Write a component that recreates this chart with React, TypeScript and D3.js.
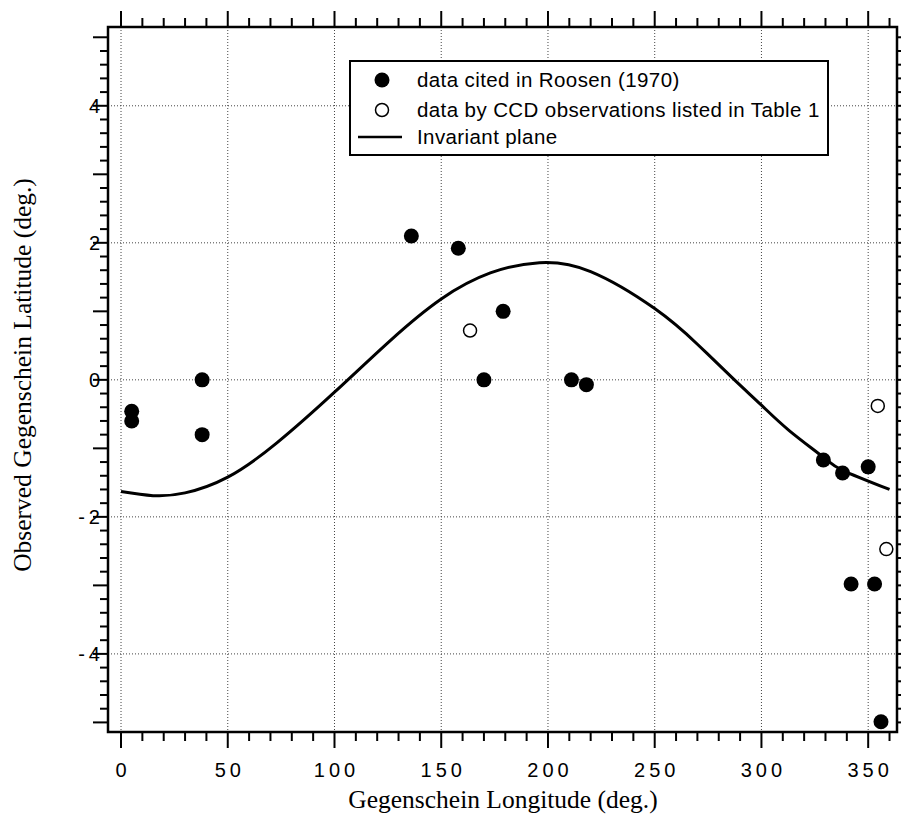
import * as d3 from "d3";
import { useEffect, useRef } from "react";

// filled circles: data cited in Roosen (1970)
const roosenLon = [5, 5, 38, 38, 136, 158, 170, 179, 211, 218, 329, 338, 350, 342, 353, 356];
const roosenLat = [-0.46, -0.6, 0, -0.8, 2.1, 1.92, 0, 1.0, 0, -0.07, -1.17, -1.36, -1.27, -2.98, -2.98, -4.99];

// open circles: CCD observations (Table 1)
const ccdLon = [163.5, 354.5, 358.5];
const ccdLat = [0.72, -0.38, -2.47];

// invariant plane
const planeLon = [0, 15, 30, 50, 73, 100, 126, 150, 173, 196, 220, 250, 270, 287, 300, 313, 329, 338, 360];
const planeLat = [-1.63, -1.69, -1.65, -1.42, -0.92, -0.18, 0.57, 1.18, 1.56, 1.71, 1.58, 1.04, 0.52, 0.01, -0.37, -0.74, -1.13, -1.32, -1.6];

const xTicks = [0, 50, 100, 150, 200, 250, 300, 350];
const yTicks = [-4, -2, 0, 2, 4];

const legendLabels = [
    "data cited in Roosen (1970)",
    "data by CCD observations listed in Table 1",
    "Invariant plane",
];

const W = 901;
const H = 814;
const left = 108, right = 897, top = 27, bottom = 732;

const App = () => {
    const svgRef = useRef<SVGSVGElement>(null);

    useEffect(() => {
        const svg = d3.select(svgRef.current);
        svg.selectAll("*").remove();

        const x = d3.scaleLinear().domain([-6.1, 363.5]).range([left, right]);
        const y = d3.scaleLinear().domain([-5.14, 5.15]).range([bottom, top]);

        const sans = "'Liberation Sans', Arial, sans-serif";
        const serif = "'Liberation Serif', 'Times New Roman', serif";

        // grid
        const grid = svg.append("g").attr("stroke", "#444").attr("stroke-width", 1).attr("stroke-dasharray", "1,2");
        xTicks.forEach((t) => {
            grid.append("line").attr("x1", x(t)).attr("x2", x(t)).attr("y1", top).attr("y2", bottom);
        });
        yTicks.forEach((t) => {
            grid.append("line").attr("x1", left).attr("x2", right).attr("y1", y(t)).attr("y2", y(t));
        });

        // ticks on all four sides, outward
        const minorX = d3.range(0, 361, 10);
        const minorY = d3.range(-50, 51, 2).map((v) => v / 10);
        const tk = svg.append("g").attr("stroke", "#000").attr("stroke-width", 2);
        minorX.forEach((t) => {
            const len = t % 50 === 0 ? 16 : 9;
            tk.append("line").attr("x1", x(t)).attr("x2", x(t)).attr("y1", bottom).attr("y2", bottom + len);
            tk.append("line").attr("x1", x(t)).attr("x2", x(t)).attr("y1", top).attr("y2", top - len);
        });
        minorY.forEach((t) => {
            const len = Math.abs(t - Math.round(t)) < 1e-6 ? 15 : 8;
            tk.append("line").attr("x1", left).attr("x2", left - len).attr("y1", y(t)).attr("y2", y(t));
            tk.append("line").attr("x1", right).attr("x2", right + len).attr("y1", y(t)).attr("y2", y(t));
        });

        // frame
        svg.append("rect")
            .attr("x", left).attr("y", top)
            .attr("width", right - left).attr("height", bottom - top)
            .attr("fill", "none").attr("stroke", "#000").attr("stroke-width", 2.5);

        // tick labels
        svg.append("g").selectAll("text").data(xTicks).enter().append("text")
            .attr("x", (d) => x(d) + 2).attr("y", 777)
            .attr("text-anchor", "middle")
            .attr("font-family", sans).attr("font-size", 20)
            .style("letter-spacing", "4px")
            .text((d) => d);
        svg.append("g").selectAll("text").data(yTicks).enter().append("text")
            .attr("x", 104).attr("y", (d) => y(d) + 7)
            .attr("text-anchor", "end")
            .attr("font-family", sans).attr("font-size", 20)
            .style("letter-spacing", "4px")
            .text((d) => d);

        // axis titles
        svg.append("text")
            .attr("x", 503).attr("y", 808)
            .attr("text-anchor", "middle")
            .attr("font-family", serif).attr("font-size", 25.5)
            .text("Gegenschein Longitude (deg.)");
        svg.append("text")
            .attr("transform", "translate(31,375) rotate(-90)")
            .attr("text-anchor", "middle")
            .attr("font-family", serif).attr("font-size", 25.5)
            .text("Observed Gegenschein Latitude (deg.)");

        // invariant plane curve
        const line = d3.line<number>()
            .x((d, i) => x(planeLon[i]))
            .y((d) => y(d))
            .curve(d3.curveNatural);
        svg.append("path")
            .attr("d", line(planeLat))
            .attr("fill", "none").attr("stroke", "#000").attr("stroke-width", 3);

        // points
        svg.append("g").selectAll("circle").data(roosenLat).enter().append("circle")
            .attr("cx", (d, i) => x(roosenLon[i]))
            .attr("cy", (d) => y(d))
            .attr("r", 7.5)
            .attr("fill", "#000");
        svg.append("g").selectAll("circle").data(ccdLat).enter().append("circle")
            .attr("cx", (d, i) => x(ccdLon[i]))
            .attr("cy", (d) => y(d))
            .attr("r", 6.5)
            .attr("fill", "#fff").attr("stroke", "#000").attr("stroke-width", 1.5);

        // legend
        const lg = svg.append("g");
        lg.append("rect")
            .attr("x", 350).attr("y", 61).attr("width", 478).attr("height", 94)
            .attr("fill", "#fff").attr("stroke", "#000").attr("stroke-width", 2);
        const rowY = [80, 110, 137];
        lg.append("circle").attr("cx", 382).attr("cy", rowY[0]).attr("r", 7.5).attr("fill", "#000");
        lg.append("circle").attr("cx", 382).attr("cy", rowY[1]).attr("r", 6.5)
            .attr("fill", "#fff").attr("stroke", "#000").attr("stroke-width", 1.5);
        lg.append("line").attr("x1", 358).attr("x2", 402).attr("y1", rowY[2]).attr("y2", rowY[2])
            .attr("stroke", "#000").attr("stroke-width", 2.5);
        lg.selectAll("text.lab").data(legendLabels).enter().append("text")
            .attr("x", 417).attr("y", (d, i) => rowY[i] + 7)
            .attr("font-family", sans).attr("font-size", 20.5)
            .style("letter-spacing", "0.4px")
            .text((d) => d);
    }, []);

    return (
        <svg
            ref={svgRef}
            width={W}
            height={H}
            style={{ position: "absolute", left: 0, top: 0, background: "#fff" }}
        ></svg>
    );
};

export default App;
